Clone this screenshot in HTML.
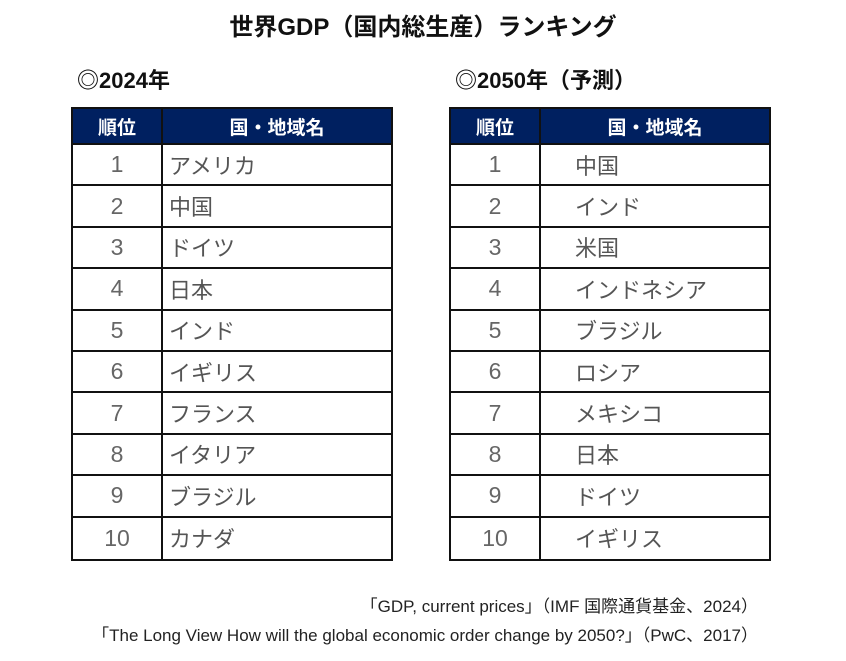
<!DOCTYPE html>
<html lang="ja"><head><meta charset="utf-8">
<style>
body{margin:0;width:846px;height:661px;background:#fff;position:relative;overflow:hidden;font-family:"Liberation Sans","Noto Sans CJK JP",sans-serif;}
.abs{position:absolute;}
#title{left:0;width:846px;top:7px;text-align:center;font-size:24px;font-weight:bold;color:#111;}
.sub{top:63px;font-size:22px;font-weight:bold;color:#111;}
.tbl{position:absolute;top:107px;width:322px;border:2px solid #111;box-sizing:border-box;}
.hdr{display:flex;height:36px;background:#002060;color:#fff;font-weight:bold;font-size:19px;border-bottom:2px solid #111;box-sizing:border-box;}
.hdr div{display:flex;align-items:center;justify-content:center;}
.c1{width:90px;border-right:2px solid #111;box-sizing:border-box;}
.c2{flex:1;}
.row{display:flex;height:41.4px;border-bottom:2px solid #111;box-sizing:border-box;font-size:22px;color:#555;font-weight:normal;}
.row:last-child{border-bottom:none;}
.row .c1{display:flex;align-items:center;justify-content:center;color:#666;font-size:23px;}
.row .c2{display:flex;align-items:center;}
.note{right:88px;font-size:17px;color:#222;white-space:nowrap;}
</style></head><body>
<div id="title" class="abs">世界GDP（国内総生産）ランキング</div>
<div class="abs sub" style="left:77px">◎2024年</div>
<div class="abs sub" style="left:455px">◎2050年（予測）</div>
<div class="tbl" id="t1" style="left:71px">
 <div class="hdr"><div class="c1">順位</div><div class="c2">国・地域名</div></div>
</div>
<div class="tbl" id="t2" style="left:449px">
 <div class="hdr"><div class="c1">順位</div><div class="c2">国・地域名</div></div>
</div>
<div class="abs note" style="top:592px">「GDP, current prices」（IMF 国際通貨基金、2024）</div>
<div class="abs note" style="top:621px">「The Long View How will the global economic order change by 2050?」（PwC、2017）</div>
<script>
const ranks=[1,2,3,4,5,6,7,8,9,10];
const countries2024=["アメリカ","中国","ドイツ","日本","インド","イギリス","フランス","イタリア","ブラジル","カナダ"];
const countries2050=["中国","インド","米国","インドネシア","ブラジル","ロシア","メキシコ","日本","ドイツ","イギリス"];
function fill(id,names,pad){
  const t=document.getElementById(id);
  names.forEach((n,i)=>{
    const r=document.createElement('div');r.className='row';
    
    
    const a=document.createElement('div');a.className='c1';a.textContent=ranks[i];
    
    
    const b=document.createElement('div');b.className='c2';b.textContent=n;b.style.paddingLeft=pad+'px';
    
    
    r.appendChild(a);r.appendChild(b);t.appendChild(r);
  });
}
fill('t1',countries2024,6);
fill('t2',countries2050,34);
</script>
</body></html>
